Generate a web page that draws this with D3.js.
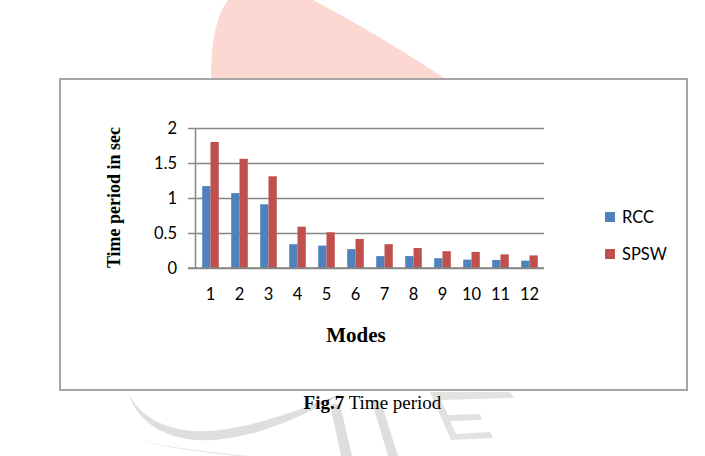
<!DOCTYPE html>
<html lang="en">
	<head>
		<meta charset="utf-8">
		<title>Fig.7 Time period</title>
		<script src="https://d3js.org/d3.v7.min.js"></script>
		<style>
			body { margin: 0; background: #fff; }
			svg { display: block; }
		</style>
	</head>
    <body>
        <div id="chart"></div>

        <script type="text/javascript">

            // data
            var modes = ['1', '2', '3', '4', '5', '6', '7', '8', '9', '10', '11', '12'];
            var seriesNames = ['RCC', 'SPSW'];
            var rcc = [1.17, 1.07, 0.91, 0.34, 0.32, 0.27, 0.17, 0.17, 0.14, 0.12, 0.115, 0.105];
            var spsw = [1.8, 1.56, 1.31, 0.59, 0.51, 0.415, 0.34, 0.285, 0.24, 0.23, 0.195, 0.18];
            var yTicks = [0, 0.5, 1, 1.5, 2];

            var colors = { 'RCC': '#4f81bd', 'SPSW': '#c0504d' };
            var sans = 'Lato, "Open Sans", sans-serif';
            var serif = '"Liberation Serif", "Times New Roman", serif';

            var w = 705;
            var h = 456;

            var svg = d3.select('#chart')
                .append('svg')
                .attr('width', w)
                .attr('height', h);

            // background watermark (pink shape on top, grey strokes below)
            var wm = svg.append('g');
            wm.append('path')
                .attr('d', 'M211,80 C211,45 215,18 228,0 L313,0 C360,25 410,55 447,80 Z')
                .attr('fill', '#fdd8d2');
            wm.append('path')
                .attr('d', 'M128,392 C140,420 175,436 220,430 C260,425 300,410 345,392 C300,418 260,436 215,440 C170,443 138,425 128,392 Z')
                .attr('fill', '#dedede');
            wm.append('path')
                .attr('d', 'M140,440 C170,448 210,452 250,456 L236,456 C200,452 165,448 140,440 Z')
                .attr('fill', '#e6e6e6');
            wm.append('path')
                .attr('d', 'M330,404 L340,404 L352,456 L341,456 Z')
                .attr('fill', '#dedede');
            wm.append('path')
                .attr('d', 'M372,402 L381,402 L398,456 L388,456 Z')
                .attr('fill', '#dedede');
            wm.append('path')
                .attr('d', 'M430,392 L510,392 L514,398 L441,400 L448,415 L480,414 L482,420 L450,421 L456,434 L490,432 L493,438 L451,440 Z')
                .attr('fill', '#e2e2e2');

            // chart frame
            svg.append('rect')
                .attr('x', 60)
                .attr('y', 79)
                .attr('width', 627)
                .attr('height', 311)
                .attr('fill', '#fff')
                .attr('stroke', '#a6a6a6')
                .attr('stroke-width', 2);

            // scales
            var x = d3.scaleBand()
                .domain(modes)
                .range([196, 544])
                .paddingInner(0.4286)
                .paddingOuter(0.2143);

            var xSub = d3.scaleBand()
                .domain(seriesNames)
                .range([0, x.bandwidth()]);

            var y = d3.scaleLinear()
                .domain([0, 2])
                .range([268, 128]);

            // gridlines + y tick labels
            var gy = svg.append('g')
                .attr('transform', 'translate(188,0)')
                .call(d3.axisLeft(y)
                    .tickValues(yTicks)
                    .tickSizeInner(-(544 - 188))
                    .tickSizeOuter(0)
                    .tickPadding(11)
                    .tickFormat(d3.format('~g')));
            gy.select('.domain').remove();
            gy.selectAll('line')
                .attr('stroke', '#868686')
                .attr('stroke-width', 1.5);
            gy.selectAll('text')
                .attr('font-family', sans)
                .attr('font-size', 16.5)
                .attr('fill', '#000');

            // vertical axis line
            svg.append('line')
                .attr('x1', 195.5).attr('x2', 195.5)
                .attr('y1', y(2)).attr('y2', y(0))
                .attr('stroke', '#868686')
                .attr('stroke-width', 1.5);

            // bars
            var table = modes.map(function (m, i) {
                return { mode: m, values: [
                    { key: 'RCC', value: rcc[i] },
                    { key: 'SPSW', value: spsw[i] }
                ] };
            });

            svg.append('g')
                .selectAll('g')
                .data(table)
                .enter()
                .append('g')
                .attr('transform', function (d) { return 'translate(' + x(d.mode) + ',0)'; })
                .selectAll('rect')
                .data(function (d) { return d.values; })
                .enter()
                .append('rect')
                .attr('x', function (d) { return xSub(d.key); })
                .attr('width', xSub.bandwidth())
                .attr('y', function (d) { return y(d.value); })
                .attr('height', function (d) { return y(0) - y(d.value); })
                .attr('fill', function (d) { return colors[d.key]; });

            // redraw the base line over the bars
            svg.append('line')
                .attr('x1', 188).attr('x2', 544)
                .attr('y1', y(0)).attr('y2', y(0))
                .attr('stroke', '#868686')
                .attr('stroke-width', 1.5);

            // x labels
            var gx = svg.append('g')
                .attr('transform', 'translate(0,' + y(0) + ')')
                .call(d3.axisBottom(x).tickSize(0).tickPadding(20));
            gx.select('.domain').remove();
            gx.selectAll('text')
                .attr('font-family', sans)
                .attr('font-size', 16.5)
                .attr('fill', '#000');

            // axis titles
            svg.append('text')
                .attr('transform', 'translate(120,197.5) rotate(-90)')
                .attr('text-anchor', 'middle')
                .attr('font-family', serif)
                .attr('font-weight', 'bold')
                .attr('font-size', 18)
                .text('Time period in sec');

            svg.append('text')
                .attr('x', 356)
                .attr('y', 342)
                .attr('text-anchor', 'middle')
                .attr('font-family', serif)
                .attr('font-weight', 'bold')
                .attr('font-size', 21)
                .text('Modes');

            // legend
            var legend = svg.append('g')
                .selectAll('g')
                .data(seriesNames)
                .enter()
                .append('g')
                .attr('transform', function (d, i) { return 'translate(605,' + (212 + i * 37) + ')'; });
            legend.append('rect')
                .attr('width', 10)
                .attr('height', 10)
                .attr('fill', function (d) { return colors[d]; });
            legend.append('text')
                .attr('x', 17)
                .attr('y', 10.5)
                .attr('font-family', sans)
                .attr('font-size', 16.5)
                .attr('fill', '#000')
                .text(function (d) { return d; });

            // caption under the frame
            var cap = svg.append('text')
                .attr('x', 372.5)
                .attr('y', 409)
                .attr('text-anchor', 'middle')
                .attr('font-family', serif)
                .attr('font-size', 19);
            cap.append('tspan').attr('font-weight', 'bold').text('Fig.7');
            cap.append('tspan').text(' Time period');

        </script>
    </body>
</html>
